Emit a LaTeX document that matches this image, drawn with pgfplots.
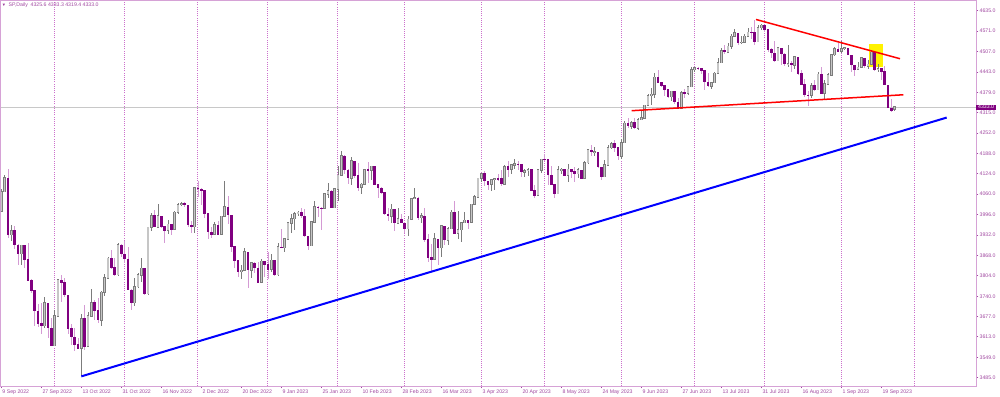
\documentclass[border=0pt]{standalone}
\usepackage{pgfplots}
\pgfplotsset{compat=1.18}
\usepackage{pgfplotstable}
\usepackage{fontspec}
\setmainfont{Liberation Sans}
\definecolor{mtpurple}{HTML}{800080}
\definecolor{mtplum}{HTML}{D49AD4}
\definecolor{mttext}{HTML}{A048A0}
\definecolor{mtframe}{HTML}{D6A2D6}
\definecolor{mtgrid}{HTML}{CC70CC}
\definecolor{bullfill}{HTML}{C6C6C6}
\definecolor{bullline}{HTML}{7C7C7C}
\definecolor{bidline}{HTML}{C8C8C8}

\pgfplotstableread{
i o h l c
0 4006.0 4077.0 4005.0 4067.4
1 4067.4 4119.3 4067.0 4110.4
2 4110.4 4140.0 3921.2 3932.7
3 3932.7 3961.9 3912.7 3946.0
4 3946.0 3959.1 3888.3 3901.4
5 3901.4 3905.0 3837.1 3873.3
6 3873.3 3900.5 3838.5 3899.9
7 3899.9 3900.0 3827.5 3855.9
8 3855.9 3907.1 3789.5 3789.9
9 3789.9 3795.0 3749.5 3758.0
10 3758.0 3760.0 3647.5 3693.2
11 3693.2 3715.7 3644.8 3655.0
12 3655.0 3717.5 3623.3 3647.3
13 3647.3 3736.7 3640.6 3719.0
14 3719.0 3720.0 3610.4 3640.5
15 3640.5 3671.4 3584.1 3585.6
16 3585.6 3698.4 3584.0 3678.4
17 3678.4 3791.9 3678.0 3790.9
18 3790.9 3806.9 3722.7 3783.3
19 3783.3 3797.9 3739.2 3744.5
20 3744.5 3745.0 3620.7 3639.7
21 3639.7 3652.2 3588.1 3612.4
22 3612.4 3640.7 3568.5 3588.8
23 3588.8 3608.3 3573.9 3577.0
24 3577.0 3685.4 3491.6 3669.9
25 3669.9 3712.0 3570.9 3583.1
26 3583.1 3689.7 3583.0 3678.0
27 3678.0 3762.8 3677.0 3720.0
28 3720.0 3728.6 3666.5 3695.2
29 3695.2 3736.0 3656.4 3665.8
30 3665.8 3757.9 3647.4 3752.8
31 3752.8 3810.7 3741.7 3797.3
32 3797.3 3862.9 3797.0 3859.1
33 3859.1 3886.2 3824.1 3830.6
34 3830.6 3860.0 3803.8 3807.3
35 3807.3 3905.4 3805.0 3901.1
36 3901.1 3903.0 3863.2 3872.0
37 3872.0 3911.8 3843.8 3856.1
38 3856.1 3894.4 3758.7 3759.7
39 3759.7 3762.0 3698.2 3719.9
40 3719.9 3796.3 3708.8 3770.6
41 3770.6 3814.0 3764.7 3806.8
42 3806.8 3859.4 3786.3 3828.1
43 3828.1 3830.0 3744.2 3748.6
44 3748.6 3958.3 3745.0 3956.4
45 3956.4 4001.5 3944.8 3992.9
46 3992.9 4009.0 3956.4 3957.3
47 3957.3 4028.8 3953.2 3991.7
48 3991.7 3993.0 3954.3 3958.8
49 3958.8 3960.0 3906.5 3946.6
50 3946.6 3979.9 3936.0 3965.3
51 3965.3 3966.0 3933.3 3949.9
52 3949.9 4005.9 3949.0 4003.6
53 4003.6 4033.8 3998.7 4027.3
54 4027.3 4034.0 4022.0 4030.0
55 4030.0 4034.0 4020.8 4026.1
56 4026.1 4027.0 3955.8 3963.9
57 3963.9 3976.8 3937.7 3957.6
58 3957.6 4080.1 3938.6 4080.1
59 4080.1 4100.5 4050.9 4076.6
60 4076.6 4080.5 4026.6 4071.7
61 4071.7 4073.0 3984.5 3998.8
62 3998.8 4001.5 3918.4 3941.3
63 3941.3 3957.6 3922.7 3933.9
64 3933.9 3974.2 3932.0 3963.5
65 3963.5 3977.0 3933.0 3934.4
66 3934.4 3990.7 3933.0 3990.6
67 3990.6 4101.0 3990.0 4019.7
68 4019.7 4053.8 3965.7 3995.3
69 3995.3 3996.0 3879.5 3895.8
70 3895.8 3897.0 3827.9 3852.4
71 3852.4 3854.9 3800.0 3817.7
72 3817.7 3838.2 3795.6 3821.6
73 3821.6 3889.8 3820.0 3878.4
74 3878.4 3880.0 3764.5 3822.4
75 3822.4 3845.8 3797.0 3844.8
76 3844.8 3846.7 3813.2 3829.3
77 3829.3 3848.3 3780.8 3783.2
78 3783.2 3858.2 3782.0 3849.3
79 3849.3 3850.0 3800.3 3839.5
80 3839.5 3878.5 3794.3 3824.1
81 3824.1 3873.2 3815.8 3853.0
82 3853.0 3854.0 3802.4 3808.1
83 3808.1 3906.2 3805.0 3895.1
84 3895.1 3950.6 3890.4 3892.1
85 3892.1 3919.8 3877.3 3919.3
86 3919.3 3970.1 3918.0 3969.6
87 3969.6 3997.8 3937.6 3983.2
88 3983.2 4004.0 3947.7 3999.1
89 3999.1 4008.0 3992.0 4003.0
90 4003.0 4015.4 3984.6 3991.0
91 3991.0 4014.2 3926.6 3928.9
92 3928.9 3930.0 3885.5 3898.9
93 3898.9 3973.0 3897.9 3972.6
94 3972.6 4039.3 3971.6 4019.8
95 4019.8 4023.9 3989.8 4017.0
96 4017.0 4019.6 3949.1 4016.2
97 4016.2 4061.6 4013.3 4060.4
98 4060.4 4094.2 4048.7 4070.6
99 4070.6 4072.0 4015.6 4017.8
100 4017.8 4077.2 4017.0 4076.6
101 4076.6 4149.0 4037.2 4119.2
102 4119.2 4195.4 4118.0 4179.8
103 4179.8 4182.4 4123.4 4136.5
104 4136.5 4138.0 4093.4 4111.1
105 4111.1 4176.5 4088.4 4164.0
106 4164.0 4165.0 4111.7 4117.9
107 4117.9 4156.2 4069.7 4081.5
108 4081.5 4094.4 4060.8 4090.5
109 4090.5 4138.9 4088.0 4137.3
110 4137.3 4159.8 4095.0 4136.1
111 4136.1 4148.1 4104.0 4147.6
112 4147.6 4149.0 4089.5 4090.4
113 4090.4 4091.0 4048.0 4079.1
114 4079.1 4083.0 4060.0 4065.0
115 4065.0 4066.0 3995.2 3997.3
116 3997.3 4017.4 3976.9 3991.1
117 3991.1 4028.3 3969.2 4012.3
118 4012.3 4013.0 3943.1 3970.0
119 3970.0 4018.1 3969.0 3982.2
120 3982.2 3997.5 3969.0 3970.2
121 3970.2 3971.7 3939.1 3951.4
122 3951.4 3990.8 3928.2 3981.4
123 3981.4 4048.3 3980.0 4045.6
124 4045.6 4078.5 4044.6 4048.4
125 4048.4 4050.0 3980.3 3986.4
126 3986.4 4000.4 3969.8 3992.0
127 3992.0 4017.8 3908.7 3918.3
128 3918.3 3934.1 3846.3 3861.6
129 3861.6 3905.1 3815.0 3855.8
130 3855.8 3937.3 3855.0 3919.3
131 3919.3 3920.0 3838.2 3891.9
132 3891.9 3964.5 3864.1 3960.3
133 3960.3 3961.0 3901.3 3916.6
134 3916.6 3956.6 3900.0 3951.6
135 3951.6 4009.1 3950.0 4002.9
136 4002.9 4039.5 3936.2 3937.0
137 3937.0 4007.7 3919.1 3948.7
138 3948.7 3972.7 3909.2 3971.0
139 3971.0 4003.8 3970.5 3977.5
140 3977.5 3979.2 3951.5 3971.3
141 3971.3 4030.6 3970.0 4027.8
142 4027.8 4057.9 4027.0 4050.8
143 4050.8 4110.8 4050.0 4109.3
144 4109.3 4127.7 4098.8 4124.5
145 4124.5 4133.1 4086.9 4100.6
146 4100.6 4101.0 4072.6 4090.4
147 4090.4 4107.3 4069.8 4105.0
148 4105.0 4109.5 4072.6 4109.1
149 4109.1 4124.3 4102.6 4108.9
150 4108.9 4134.4 4086.9 4092.0
151 4092.0 4150.3 4091.0 4146.2
152 4146.2 4163.2 4113.2 4137.6
153 4137.6 4151.7 4123.2 4151.3
154 4151.3 4169.5 4140.4 4154.9
155 4154.9 4162.6 4134.5 4154.5
156 4154.5 4155.0 4114.6 4129.8
157 4129.8 4138.0 4113.9 4133.5
158 4133.5 4142.4 4117.8 4137.0
159 4137.0 4138.0 4071.4 4071.6
160 4071.6 4089.7 4049.4 4056.0
161 4056.0 4138.2 4055.0 4135.4
162 4135.4 4170.1 4127.2 4169.5
163 4169.5 4186.9 4164.1 4167.9
164 4167.9 4168.0 4089.7 4119.6
165 4119.6 4148.3 4088.9 4090.8
166 4090.8 4092.0 4048.3 4061.2
167 4061.2 4147.0 4060.0 4136.3
168 4136.3 4142.3 4123.8 4138.1
169 4138.1 4139.0 4116.7 4119.2
170 4119.2 4154.3 4098.9 4137.6
171 4137.6 4138.0 4109.3 4130.6
172 4130.6 4143.7 4099.1 4124.1
173 4124.1 4141.3 4110.3 4136.3
174 4136.3 4137.0 4109.9 4109.9
175 4109.9 4164.7 4109.0 4158.8
176 4158.8 4202.2 4153.5 4198.1
177 4198.1 4212.9 4180.2 4192.0
178 4192.0 4209.2 4179.7 4192.6
179 4192.6 4193.0 4142.5 4145.6
180 4145.6 4146.0 4104.0 4115.2
181 4115.2 4165.7 4114.0 4151.3
182 4151.3 4212.9 4150.0 4205.5
183 4205.5 4222.0 4203.0 4218.0
184 4218.0 4231.1 4192.2 4205.5
185 4205.5 4206.0 4166.2 4179.8
186 4179.8 4232.4 4171.6 4221.0
187 4221.0 4290.7 4220.0 4282.4
188 4282.4 4299.3 4266.8 4273.8
189 4273.8 4288.3 4263.1 4283.9
190 4283.9 4299.2 4264.0 4267.5
191 4267.5 4298.0 4261.1 4293.9
192 4293.9 4322.6 4291.7 4298.9
193 4298.9 4340.1 4298.0 4338.9
194 4338.9 4375.4 4337.9 4369.0
195 4369.0 4391.8 4337.9 4372.6
196 4372.6 4439.2 4362.6 4425.8
197 4425.8 4448.5 4407.4 4409.6
198 4409.6 4412.0 4395.0 4400.0
199 4400.0 4401.0 4367.2 4388.7
200 4388.7 4389.0 4360.1 4365.7
201 4365.7 4382.3 4351.8 4381.9
202 4381.9 4382.0 4341.3 4348.3
203 4348.3 4362.1 4328.1 4328.8
204 4328.8 4384.4 4328.0 4378.4
205 4378.4 4390.4 4360.2 4376.9
206 4376.9 4398.4 4372.0 4396.4
207 4396.4 4458.5 4396.0 4450.4
208 4450.4 4456.5 4442.3 4455.6
209 4455.6 4460.0 4450.0 4455.0
210 4455.0 4456.0 4436.6 4446.8
211 4446.8 4447.0 4385.1 4411.6
212 4411.6 4440.4 4397.4 4399.0
213 4399.0 4412.6 4389.9 4409.5
214 4409.5 4443.6 4408.5 4439.3
215 4439.3 4488.3 4439.0 4472.2
216 4472.2 4517.4 4472.0 4510.0
217 4510.0 4527.8 4499.6 4505.4
218 4505.4 4532.9 4504.9 4522.8
219 4522.8 4562.3 4514.6 4555.0
220 4555.0 4578.4 4554.0 4565.7
221 4565.7 4566.0 4527.6 4534.9
222 4534.9 4555.0 4530.0 4536.3
223 4536.3 4563.4 4535.0 4554.6
224 4554.6 4580.6 4552.4 4567.5
225 4567.5 4582.5 4547.6 4566.8
226 4566.8 4607.1 4528.6 4537.4
227 4537.4 4590.2 4536.0 4582.2
228 4582.2 4594.2 4573.1 4589.0
229 4589.0 4590.0 4567.5 4576.7
230 4576.7 4577.0 4505.8 4513.4
231 4513.4 4519.5 4485.5 4501.9
232 4501.9 4540.3 4474.6 4478.0
233 4478.0 4519.8 4477.0 4518.4
234 4518.4 4519.0 4464.4 4499.4
235 4499.4 4502.4 4461.3 4467.7
236 4467.7 4527.4 4457.9 4468.8
237 4468.8 4476.2 4444.0 4464.1
238 4464.1 4490.3 4453.4 4489.7
239 4489.7 4490.0 4432.2 4437.9
240 4437.9 4450.0 4403.6 4404.3
241 4404.3 4421.2 4364.8 4370.4
242 4370.4 4381.8 4335.3 4369.7
243 4369.7 4407.6 4360.3 4399.8
244 4399.8 4418.6 4382.8 4387.6
245 4387.6 4443.2 4386.0 4436.0
246 4436.0 4458.3 4375.6 4376.3
247 4376.3 4418.5 4356.3 4405.7
248 4405.7 4439.6 4405.0 4433.3
249 4433.3 4500.1 4431.7 4497.6
250 4497.6 4521.7 4493.6 4514.9
251 4514.9 4532.3 4507.4 4507.7
252 4507.7 4541.3 4501.4 4515.8
253 4515.8 4522.0 4512.0 4518.0
254 4518.0 4519.0 4496.0 4496.8
255 4496.8 4497.0 4442.4 4465.5
256 4465.5 4466.0 4430.5 4451.1
257 4451.1 4473.5 4448.4 4457.5
258 4457.5 4490.8 4457.0 4487.5
259 4487.5 4488.0 4456.8 4461.9
260 4461.9 4479.4 4453.5 4467.4
261 4467.4 4512.0 4466.0 4505.1
262 4505.1 4506.0 4447.2 4450.3
263 4450.3 4466.4 4442.1 4453.5
264 4453.5 4454.0 4416.6 4444.0
265 4444.0 4461.0 4401.4 4402.2
266 4402.2 4403.0 4329.2 4330.0
267 4330.0 4357.4 4316.5 4320.1
268 4325.6 4333.3 4319.4 4333.0
}\spdata

\pgfplotsset{
  candle/.style={draw=none, no markers, forget plot,
    error bars/y dir=both, error bars/y explicit, error bars/error mark=none},
}

\begin{document}
\begin{tikzpicture}
\begin{axis}[
  at={(0.5pt,5pt)}, anchor=south west,
  width=487.5pt, height=192.5pt, scale only axis,
  xmin=-0.09, xmax=292.4, ymin=3458.8, ymax=4665.4,
  axis line style={draw=mtframe, line width=0.5pt},
  clip mode=individual,
  xtick={0,12,...,264},
  xticklabels={9 Sep 2022,27 Sep 2022,13 Oct 2022,31 Oct 2022,16 Nov 2022,2 Dec 2022,20 Dec 2022,9 Jan 2023,25 Jan 2023,10 Feb 2023,28 Feb 2023,16 Mar 2023,3 Apr 2023,20 Apr 2023,8 May 2023,24 May 2023,9 Jun 2023,27 Jun 2023,13 Jul 2023,31 Jul 2023,16 Aug 2023,1 Sep 2023,19 Sep 2023},
  xtick pos=bottom, ytick pos=right, tick align=outside,
  yticklabel pos=right,
  ytick={3485,3549,3613,3677,3740,3804,3868,3932,3996,4060,4124,4188,4252,4315,4379,4443,4507,4571,4635},
  yticklabels={3485.0,3549.0,3613.0,3677.0,3740.0,3804.0,3868.0,3932.0,3996.0,4060.0,4124.0,4188.0,4252.0,4315.0,4379.0,4443.0,4507.0,4571.0,4635.0},
  major tick length=1.2pt,
  tick style={draw=mttext, line width=0.4pt},
  ticklabel style={font=\fontsize{2.6}{3}\selectfont, text=mttext, inner sep=0.4pt},
  xticklabel style={anchor=north west},
  yticklabel style={anchor=west},
  extra x ticks={16,37,59,80,101,121,144,163,186,208,229,252,274},
  extra x tick labels={},
  extra x tick style={grid=major, major tick length=0pt},
  major grid style={draw=mtgrid, line width=0.5pt, dash pattern=on 0.5pt off 0.6pt},
]
% highlighted zone
\addplot[fill=yellow, draw=none] coordinates {(260.3,4457.6) (264.4,4457.6) (264.4,4530.6) (260.3,4530.6)};
% bid line
\addplot[draw=bidline, line width=0.4pt] coordinates {(-1,4333) (300,4333)};
% wicks
\addplot[candle, restrict expr to domain={\thisrow{c}-\thisrow{o}}{0:10000},
  error bars/error bar style={draw=bullline, line width=0.4pt, solid}]
  table[x=i, y expr={(\thisrow{h}+\thisrow{l})/2}, y error expr={(\thisrow{h}-\thisrow{l})/2}] {\spdata};
\addplot[candle, restrict expr to domain={\thisrow{c}-\thisrow{o}}{-10000:-0.01},
  error bars/error bar style={draw=mtplum, line width=0.4pt, solid}]
  table[x=i, y expr={(\thisrow{h}+\thisrow{l})/2}, y error expr={(\thisrow{h}-\thisrow{l})/2}] {\spdata};
% bull bodies
\addplot[candle, restrict expr to domain={\thisrow{c}-\thisrow{o}}{0:10000},
  error bars/error bar style={draw=bullline, line width=1.25pt, solid}]
  table[x=i, y expr={(\thisrow{o}+\thisrow{c})/2}, y error expr={abs(\thisrow{c}-\thisrow{o})/2+2.0}] {\spdata};
\addplot[candle, restrict expr to domain={\thisrow{c}-\thisrow{o}}{0:10000},
  error bars/error bar style={draw=bullfill, line width=0.6pt, solid}]
  table[x=i, y expr={(\thisrow{o}+\thisrow{c})/2}, y error expr={abs(\thisrow{c}-\thisrow{o})/2}] {\spdata};
% bear bodies
\addplot[candle, restrict expr to domain={\thisrow{c}-\thisrow{o}}{-10000:-0.01},
  error bars/error bar style={draw=mtpurple, line width=1.25pt, solid}]
  table[x=i, y expr={(\thisrow{o}+\thisrow{c})/2}, y error expr={abs(\thisrow{c}-\thisrow{o})/2+0.8}] {\spdata};
% trend lines
\addplot[draw=red, line width=0.75pt] coordinates {(226.4,4607.5) (269.6,4484.5)};
\addplot[draw=red, line width=0.75pt] coordinates {(189.1,4321.6) (270.6,4371.5)};
\addplot[draw=blue, line width=1pt] coordinates {(24,3489) (283.6,4300)};
% current price label
\node[anchor=west, fill=mtpurple, text=white, inner xsep=0.9pt, inner ysep=0.35pt,
  font=\fontsize{2.6}{3}\selectfont] at (axis cs:292.4,4333) {4333.0};
\end{axis}
\fill[mttext] (1.3pt,196.2pt) -- (2.5pt,196.2pt) -- (1.9pt,195.0pt) -- cycle;
\node[anchor=west, inner sep=0pt, text=mttext, font=\fontsize{2.6}{3}\selectfont] at (4.1pt,195.5pt) {SP,Daily\hspace{1.4pt}4325.6 4333.3 4319.4 4333.0};
\pgfresetboundingbox
\useasboundingbox (0,0) rectangle (500pt,198pt);
\end{tikzpicture}
\end{document}
